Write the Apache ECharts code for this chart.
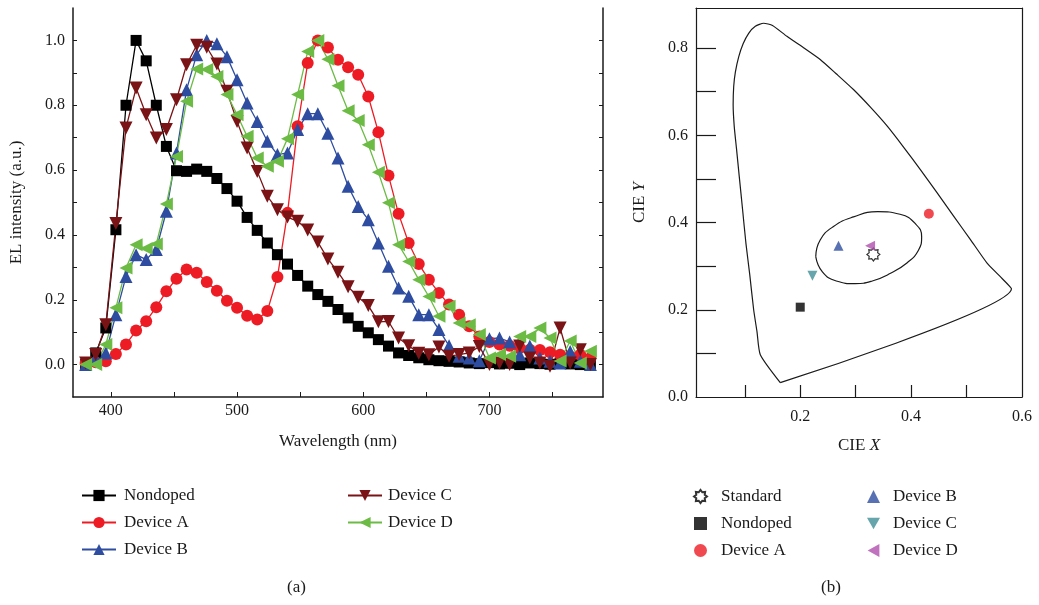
<!DOCTYPE html>
<html>
<head>
<meta charset="utf-8">
<script src="https://cdn.jsdelivr.net/npm/echarts@6/dist/echarts.min.js"></script>
<style>
  html, body { margin: 0; padding: 0; background: #fff; }
  #main { width: 1039px; height: 605px; }
</style>
</head>
<body>
<div id="main"></div>
<script>
// EL spectra, wavelength grid in nm
var wavelengths = [380, 388, 396, 404, 412, 420, 428, 436, 444, 452, 460, 468, 476, 484, 492, 500, 508, 516, 524, 532,
  540, 548, 556, 564, 572, 580, 588, 596, 604, 612, 620, 628, 636, 644, 652, 660, 668, 676, 684, 692,
  700, 708, 716, 724, 732, 740, 748, 756, 764, 772, 780];

var nondoped = [0.0, 0.036, 0.113, 0.416, 0.80, 1.0, 0.937, 0.80, 0.673, 0.598, 0.596, 0.603, 0.596, 0.574, 0.543, 0.504, 0.454, 0.414, 0.375, 0.339,
  0.310, 0.275, 0.242, 0.216, 0.195, 0.170, 0.144, 0.118, 0.098, 0.077, 0.057, 0.036, 0.028, 0.021, 0.015, 0.012, 0.010, 0.008, 0.005, 0.003,
  0.006, 0.002, 0.004, 0.0, 0.005, 0.003, 0.001, 0.004, 0.002, 0.0, 0.003];
var deviceA = [0.005, 0.007, 0.01, 0.033, 0.062, 0.105, 0.134, 0.177, 0.226, 0.265, 0.293, 0.283, 0.255, 0.228, 0.197, 0.175, 0.151, 0.139, 0.165, 0.270,
  0.468, 0.735, 0.93, 1.0, 0.978, 0.94, 0.917, 0.894, 0.827, 0.717, 0.583, 0.465, 0.375, 0.31, 0.262, 0.221, 0.185, 0.154, 0.118, 0.087,
  0.07, 0.062, 0.058, 0.052, 0.046, 0.045, 0.038, 0.03, 0.025, 0.03, 0.02];
var deviceB = [0.0, 0.02, 0.036, 0.154, 0.272, 0.339, 0.324, 0.355, 0.473, 0.653, 0.848, 0.956, 1.0, 0.99, 0.95, 0.879, 0.807, 0.75, 0.689, 0.648,
  0.653, 0.725, 0.774, 0.774, 0.714, 0.637, 0.55, 0.488, 0.447, 0.375, 0.303, 0.236, 0.211, 0.154, 0.154, 0.108, 0.058, 0.026, 0.02, 0.012,
  0.08, 0.082, 0.07, 0.03, 0.057, 0.02, 0.01, 0.005, 0.04, 0.01, 0.0];
var deviceC = [0.005, 0.031, 0.123, 0.435, 0.73, 0.853, 0.771, 0.699, 0.725, 0.817, 0.925, 0.985, 0.979, 0.927, 0.843, 0.75, 0.668, 0.596, 0.519, 0.478,
  0.455, 0.442, 0.415, 0.378, 0.326, 0.285, 0.24, 0.208, 0.182, 0.132, 0.133, 0.082, 0.058, 0.035, 0.03, 0.054, 0.026, 0.031, 0.036, 0.056,
  0.0, 0.005, 0.0, 0.057, 0.02, 0.005, -0.005, 0.113, 0.005, 0.046, 0.0];
var deviceD = [0.0, 0.0, 0.062, 0.175, 0.298, 0.37, 0.358, 0.372, 0.495, 0.642, 0.812, 0.912, 0.91, 0.889, 0.833, 0.771, 0.704, 0.637, 0.612, 0.627,
  0.697, 0.833, 0.966, 1.0, 0.942, 0.86, 0.783, 0.753, 0.678, 0.593, 0.499, 0.37, 0.318, 0.262, 0.21, 0.149, 0.18, 0.128, 0.123, 0.093,
  0.02, 0.031, 0.026, 0.087, 0.087, 0.113, 0.082, 0.011, 0.073, 0.005, 0.041];

// CIE 1931 chromaticity coordinates [x, y]
var cieStandard = [0.332, 0.327];
var cieNondoped = [0.200, 0.206];
var cieDeviceA = [0.432, 0.420];
var cieDeviceB = [0.269, 0.347];
var cieDeviceC = [0.222, 0.278];
var cieDeviceD = [0.326, 0.347];

// spectral locus outline
var locusX = [0.164, 0.128, 0.122, 0.116, 0.109, 0.102, 0.096, 0.090, 0.085, 0.081, 0.079, 0.080, 0.083, 0.089, 0.097, 0.107, 0.119, 0.134, 0.150, 0.176, 0.206, 0.236, 0.266, 0.296, 0.327, 0.357, 0.387, 0.417, 0.447, 0.477, 0.507, 0.537, 0.560, 0.581, 0.164];
var locusY = [0.033, 0.097, 0.150, 0.200, 0.280, 0.353, 0.430, 0.506, 0.570, 0.620, 0.670, 0.712, 0.745, 0.780, 0.810, 0.834, 0.850, 0.857, 0.852, 0.827, 0.801, 0.774, 0.740, 0.705, 0.664, 0.621, 0.572, 0.521, 0.468, 0.414, 0.361, 0.307, 0.277, 0.248, 0.033];

// ellipse around the white point
var ellipseX = [0.228, 0.236, 0.260, 0.296, 0.340, 0.380, 0.408, 0.419, 0.413, 0.393, 0.362, 0.330, 0.299, 0.265, 0.240, 0.228];
var ellipseY = [0.322, 0.360, 0.391, 0.413, 0.425, 0.419, 0.397, 0.367, 0.336, 0.308, 0.283, 0.266, 0.260, 0.266, 0.287, 0.322];

var font = "'Liberation Serif', 'DejaVu Serif', serif";
var ink = '#1a1a1a';

function pairs(xs, ys) {
  var out = [];
  for (var i = 0; i < xs.length; i++) out.push([xs[i], ys[i]]);
  return out;
}

var starPath = 'path://M20 10 L16.5 12.7 L17.1 17.1 L12.7 16.5 L10 20 L7.3 16.5 L2.9 17.1 L3.5 12.7 L0 10 L3.5 7.3 L2.9 2.9 L7.3 3.5 L10 0 L12.7 3.5 L17.1 2.9 L16.5 7.3 Z';
var downPath = 'path://M0 0 L10 0 L5 9 Z';
var leftPath = 'path://M0 5 L9 0 L9 10 Z';

var myChart = echarts.init(document.getElementById('main'));

function lineSeries(name, data, color, symbol, size, rotate) {
  return {
    name: name,
    type: 'line',
    xAxisIndex: 0,
    yAxisIndex: 0,
    data: pairs(wavelengths, data),
    symbol: symbol,
    symbolSize: size,
    symbolRotate: rotate || 0,
    showAllSymbol: true,
    itemStyle: { color: color },
    lineStyle: { color: color, width: 1.3 },
    emphasis: { disabled: true }
  };
}

function cieSeries(name, pt, color, symbol, size, style) {
  return {
    name: name,
    type: 'scatter',
    xAxisIndex: 1,
    yAxisIndex: 2,
    data: [pt],
    symbol: symbol,
    symbolSize: size,
    itemStyle: style || { color: color },
    z: 5
  };
}

myChart.setOption({
  animation: false,
  textStyle: { fontFamily: font },
  grid: [
    { left: 73, top: 8, width: 530, height: 389 },
    { left: 696, top: 8, width: 326, height: 389 }
  ],
  xAxis: [
    {
      gridIndex: 0, type: 'value', min: 370, max: 790,
      name: 'Wavelength (nm)', nameLocation: 'middle', nameGap: 36,
      nameTextStyle: { fontSize: 17, color: ink, fontFamily: font },
      axisLine: { onZero: false, lineStyle: { color: ink, width: 1.5 } },
      axisTick: { inside: true, length: 5, customValues: [400, 450, 500, 550, 600, 650, 700, 750], lineStyle: { color: ink } },
      axisLabel: { customValues: [400, 500, 600, 700], fontSize: 16, color: ink, fontFamily: font, margin: 6 },
      splitLine: { show: false }
    },
    {
      gridIndex: 1, type: 'value', min: 0.012, max: 0.6,
      name: '{n|CIE }{i|X}', nameLocation: 'middle', nameGap: 40,
      nameTextStyle: { rich: { n: { fontSize: 17, color: ink, fontFamily: font }, i: { fontSize: 17, color: ink, fontFamily: font, fontStyle: 'italic' } } },
      axisLine: { onZero: false, lineStyle: { color: ink, width: 1.2 } },
      axisTick: { inside: true, length: 12, customValues: [0.1, 0.2, 0.3, 0.4, 0.5], lineStyle: { color: ink, width: 1.2 } },
      axisLabel: { customValues: [0.2, 0.4, 0.6], formatter: function (v) { return v.toFixed(1); }, fontSize: 16, color: ink, fontFamily: font, margin: 12 },
      splitLine: { show: false }
    },
    {
      gridIndex: 1, type: 'value', min: 0.012, max: 0.6, position: 'top',
      axisLine: { onZero: false, lineStyle: { color: ink, width: 1.2 } },
      axisTick: { show: false }, axisLabel: { show: false }, splitLine: { show: false }
    }
  ],
  yAxis: [
    {
      gridIndex: 0, type: 'value', min: -0.1, max: 1.1,
      name: 'EL intensity (a.u.)', nameLocation: 'middle', nameGap: 48,
      nameTextStyle: { fontSize: 17, color: ink, fontFamily: font },
      axisLine: { show: true, onZero: false, lineStyle: { color: ink, width: 1.5 } },
      axisTick: { show: true, inside: true, length: 4, customValues: [0, 0.1, 0.2, 0.3, 0.4, 0.5, 0.6, 0.7, 0.8, 0.9, 1.0], lineStyle: { color: ink } },
      axisLabel: { customValues: [0, 0.2, 0.4, 0.6, 0.8, 1.0], formatter: function (v) { return v.toFixed(1); }, fontSize: 16, color: ink, fontFamily: font, margin: 8 },
      splitLine: { show: false }
    },
    {
      gridIndex: 0, type: 'value', min: -0.1, max: 1.1, position: 'right',
      axisLine: { show: true, onZero: false, lineStyle: { color: ink, width: 1.5 } },
      axisTick: { show: true, inside: true, length: 4, customValues: [0, 0.1, 0.2, 0.3, 0.4, 0.5, 0.6, 0.7, 0.8, 0.9, 1.0], lineStyle: { color: ink } },
      axisLabel: { show: false }, splitLine: { show: false }
    },
    {
      gridIndex: 1, type: 'value', min: 0, max: 0.892,
      name: '{n|CIE }{i|Y}', nameLocation: 'middle', nameGap: 48,
      nameTextStyle: { rich: { n: { fontSize: 17, color: ink, fontFamily: font }, i: { fontSize: 17, color: ink, fontFamily: font, fontStyle: 'italic' } } },
      axisLine: { show: true, onZero: false, lineStyle: { color: ink, width: 1.2 } },
      axisTick: { show: true, inside: true, length: 20, customValues: [0.1, 0.2, 0.3, 0.4, 0.5, 0.6, 0.7, 0.8], lineStyle: { color: ink, width: 1.2 } },
      axisLabel: { customValues: [0, 0.2, 0.4, 0.6, 0.8], formatter: function (v) { return v.toFixed(1); }, fontSize: 16, color: ink, fontFamily: font, margin: 8 },
      splitLine: { show: false }
    },
    {
      gridIndex: 1, type: 'value', min: 0, max: 0.892, position: 'right',
      axisLine: { show: true, onZero: false, lineStyle: { color: ink, width: 1.2 } },
      axisTick: { show: false }, axisLabel: { show: false }, splitLine: { show: false }
    }
  ],
  legend: [
    {
      data: ['Nondoped', 'Device A', 'Device B'], orient: 'vertical', left: 76, top: 482,
      itemWidth: 34, itemHeight: 14, itemGap: 10,
      textStyle: { fontSize: 17, color: ink, fontFamily: font, padding: [0, 0, 0, 3] }
    },
    {
      data: ['Device C', 'Device D'], orient: 'vertical', left: 342, top: 482,
      itemWidth: 34, itemHeight: 14, itemGap: 10,
      textStyle: { fontSize: 17, color: ink, fontFamily: font, padding: [0, 0, 0, 1] }
    },
    {
      data: ['Standard', 'Nondoped ', 'Device A '], orient: 'vertical', left: 688, top: 483,
      itemWidth: 13, itemHeight: 13, itemGap: 10,
      textStyle: { fontSize: 17, color: ink, fontFamily: font, padding: [0, 0, 0, 9] }
    },
    {
      data: ['Device B ', 'Device C ', 'Device D '], orient: 'vertical', left: 862, top: 483,
      itemWidth: 13, itemHeight: 13, itemGap: 10,
      textStyle: { fontSize: 17, color: ink, fontFamily: font, padding: [0, 0, 0, 8] }
    }
  ],
  graphic: [
    { type: 'text', left: 287, top: 579, style: { text: '(a)', fontSize: 17, fill: ink, fontFamily: font } },
    { type: 'text', left: 821, top: 579, style: { text: '(b)', fontSize: 17, fill: ink, fontFamily: font } }
  ],
  series: [
    lineSeries('Nondoped', nondoped, '#000000', 'rect', 11),
    lineSeries('Device A', deviceA, '#ED1C24', 'circle', 12),
    lineSeries('Device B', deviceB, '#2E4DA0', 'triangle', 13),
    lineSeries('Device C', deviceC, '#7A1315', 'triangle', 13, 180),
    lineSeries('Device D', deviceD, '#6CBB45', 'triangle', 13, 90),
    {
      type: 'line', xAxisIndex: 1, yAxisIndex: 2, data: pairs(locusX, locusY),
      symbol: 'none', smooth: 0.2, lineStyle: { color: ink, width: 1.2 }, silent: true
    },
    {
      type: 'line', xAxisIndex: 1, yAxisIndex: 2, data: pairs(ellipseX, ellipseY),
      symbol: 'none', smooth: true, lineStyle: { color: ink, width: 1.2 }, silent: true
    },
    cieSeries('Standard', cieStandard, '#fff', starPath, 13, { color: '#fff', borderColor: '#000', borderWidth: 1.2 }),
    cieSeries('Nondoped ', cieNondoped, '#000000', 'rect', 9),
    cieSeries('Device A ', cieDeviceA, '#ED1C24', 'circle', 10),
    cieSeries('Device B ', cieDeviceB, '#2E4DA0', 'triangle', 10),
    cieSeries('Device C ', cieDeviceC, '#3E8E96', downPath, 10),
    cieSeries('Device D ', cieDeviceD, '#B04FAE', leftPath, 10)
  ]
});
</script>
</body>
</html>
